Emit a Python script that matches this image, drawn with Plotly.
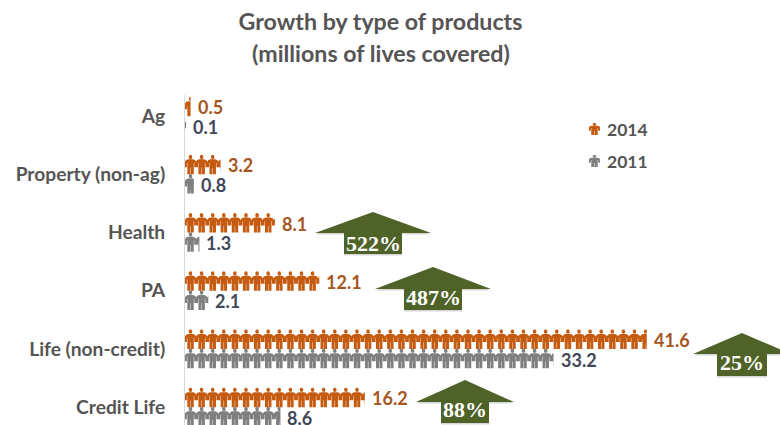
import plotly.graph_objects as go

# Lives covered per product line, in millions (top row first)
categories = ["Ag", "Property (non-ag)", "Health", "PA", "Life (non-credit)", "Credit Life"]
values_2014 = [0.5, 3.2, 8.1, 12.1, 41.6, 16.2]
values_2011 = [0.1, 0.8, 1.3, 2.1, 33.2, 8.6]
growth_labels = ["522%", "487%", "25%", "88%"]

W, H = 780, 425
LEFT, TOP = 185, 95
PX_PER_LIFE = 11.1
PX_PER_ROW = 58.2

COLOR_2014, COLOR_2011 = "#c55a11", "#7f7f7f"
TEXT_2014, TEXT_2011 = "#a5561f", "#3f4758"
TEXT_GREY = "#555555"
ARROW = "#4f6228"
FONT = "Lato"

# One person glyph in a unit box: x to the right, y upward from the feet
HEAD = [(0.34, 0.86), (0.39, 0.80), (0.50, 0.78), (0.61, 0.80), (0.66, 0.86),
        (0.66, 0.93), (0.61, 0.98), (0.50, 1.0), (0.39, 0.98), (0.34, 0.93)]
BODY = [(0.26, 0.77), (0.74, 0.77), (0.92, 0.72), (1.0, 0.64), (1.0, 0.36),
        (0.83, 0.36), (0.83, 0.58), (0.79, 0.58), (0.79, 0.0),
        (0.52, 0.0), (0.52, 0.34), (0.48, 0.34), (0.48, 0.0), (0.21, 0.0),
        (0.21, 0.58), (0.17, 0.58), (0.17, 0.36), (0.0, 0.36),
        (0.0, 0.64), (0.08, 0.72)]


def person_row(value, row):
    """Outline of `value` people along a row, with the last one cut at the value."""
    xs, ys = [], []
    height = 19.5 / PX_PER_ROW
    for n in range(int(value) + 1):
        if n >= value:
            break
        for part in (HEAD, BODY):
            for px, py in part + part[:1]:
                xs.append(min(n + px, value))
                ys.append(row + height / 2 - py * height)
            xs.append(None)
            ys.append(None)
    return xs, ys


ROW_OFFSET = 9.6 / PX_PER_ROW
LABEL_OFFSET = 9.8 / PX_PER_ROW
fig = go.Figure()
for name, vals, color, sign in (("2014", values_2014, COLOR_2014, -1),
                                ("2011", values_2011, COLOR_2011, 1)):
    xs, ys = [], []
    for i, v in enumerate(vals):
        rx, ry = person_row(v, i + sign * ROW_OFFSET)
        xs += rx
        ys += ry
    fig.add_trace(go.Scatter(x=xs, y=ys, name=name, mode="lines", fill="toself",
                             fillcolor=color, line=dict(width=0, color=color),
                             hoverinfo="skip", showlegend=False))


def paper_x(px):
    return (px - LEFT) / (W - LEFT)


def paper_y(py):
    return 1 - (py - TOP) / (H - TOP)


annotations = []
for vals, color, sign in ((values_2014, TEXT_2014, -1), (values_2011, TEXT_2011, 1)):
    for i, v in enumerate(vals):
        annotations.append(dict(
            x=v, y=i + sign * LABEL_OFFSET, text=f"{v:.1f}", showarrow=False,
            xanchor="left", yanchor="middle", xshift=5, yshift=-1,
            font=dict(family=FONT, size=18, color=color, weight=700)))

# Growth arrows: apex x, apex y, half wing, half shaft, wing y, bottom y, label y
arrow_specs = [
    (373, 212, 58, 29, 233, 254, 243),
    (433, 267, 58, 29, 289, 310, 297),
    (742, 333, 49, 25, 354, 376, 362),
    (465, 380, 49, 24, 402, 423, 409),
]
shapes = []


def arrow_path(cx, top, wing, shaft, wing_y, bottom, dx=0.0, dy=0.0):
    pts = [(cx, top), (cx + wing, wing_y), (cx + shaft, wing_y), (cx + shaft, bottom),
           (cx - shaft, bottom), (cx - shaft, wing_y), (cx - wing, wing_y)]
    return "M" + " L".join(f"{paper_x(x + dx):.5f},{paper_y(y + dy):.5f}" for x, y in pts) + " Z"


for (cx, top, wing, shaft, wing_y, bottom, label_y), label in zip(arrow_specs, growth_labels):
    shapes.append(dict(type="path", xref="paper", yref="paper", line_width=0,
                       fillcolor="rgba(0,0,0,0.16)",
                       path=arrow_path(cx, top, wing, shaft, wing_y, bottom, 0, 1.5)))
    shapes.append(dict(type="path", xref="paper", yref="paper", line_width=0,
                       fillcolor=ARROW, path=arrow_path(cx, top, wing, shaft, wing_y, bottom)))
    annotations.append(dict(
        x=paper_x(cx), y=paper_y(label_y), xref="paper", yref="paper", text=label,
        showarrow=False, xanchor="center", yanchor="middle",
        font=dict(family="Liberation Serif", size=22, color="white", weight=700)))

# Legend: a small person next to each year
for year, color, cy in (("2014", COLOR_2014, 129), ("2011", COLOR_2011, 161)):
    for part in (HEAD, BODY):
        pts = [(589 + px * 11, cy + 6 - py * 12) for px, py in part]
        shapes.append(dict(
            type="path", xref="paper", yref="paper", line_width=0, fillcolor=color,
            path="M" + " L".join(f"{paper_x(x):.5f},{paper_y(y):.5f}" for x, y in pts) + " Z"))
    annotations.append(dict(
        x=paper_x(605), y=paper_y(cy), xref="paper", yref="paper", text=year,
        showarrow=False, xanchor="left", yanchor="middle",
        font=dict(family=FONT, size=17.5, color=TEXT_GREY, weight=700)))

# Second title line sits further below the first than a line break would put it
annotations.append(dict(
    x=paper_x(380.5), y=paper_y(53), xref="paper", yref="paper",
    text="(millions of lives covered)", showarrow=False,
    xanchor="center", yanchor="middle",
    font=dict(family=FONT, size=23.2, color=TEXT_GREY, weight=700)))

fig.update_layout(
    width=W, height=H, margin=dict(l=LEFT, r=0, t=TOP, b=0),
    paper_bgcolor="white", plot_bgcolor="white", showlegend=False,
    title=dict(text="Growth by type of products", x=380.5 / W, xanchor="center",
               y=1 - 22 / H, yanchor="middle",
               font=dict(family=FONT, size=23.2, color=TEXT_GREY, weight=700)),
    xaxis=dict(range=[0, (W - LEFT) / PX_PER_LIFE], visible=False),
    yaxis=dict(range=[5 + 18 / PX_PER_ROW, -21 / PX_PER_ROW],
               tickmode="array", tickvals=list(range(len(categories))), ticktext=categories,
               showgrid=False, zeroline=False, showline=True, linecolor="#d9d9d9", linewidth=1,
               ticks="outside", ticklen=15, tickcolor="rgba(0,0,0,0)",
               tickfont=dict(family=FONT, size=19.2, color=TEXT_GREY, weight=700)),
    shapes=shapes, annotations=annotations,
)

fig.write_html("out.html", config={"displayModeBar": False})
